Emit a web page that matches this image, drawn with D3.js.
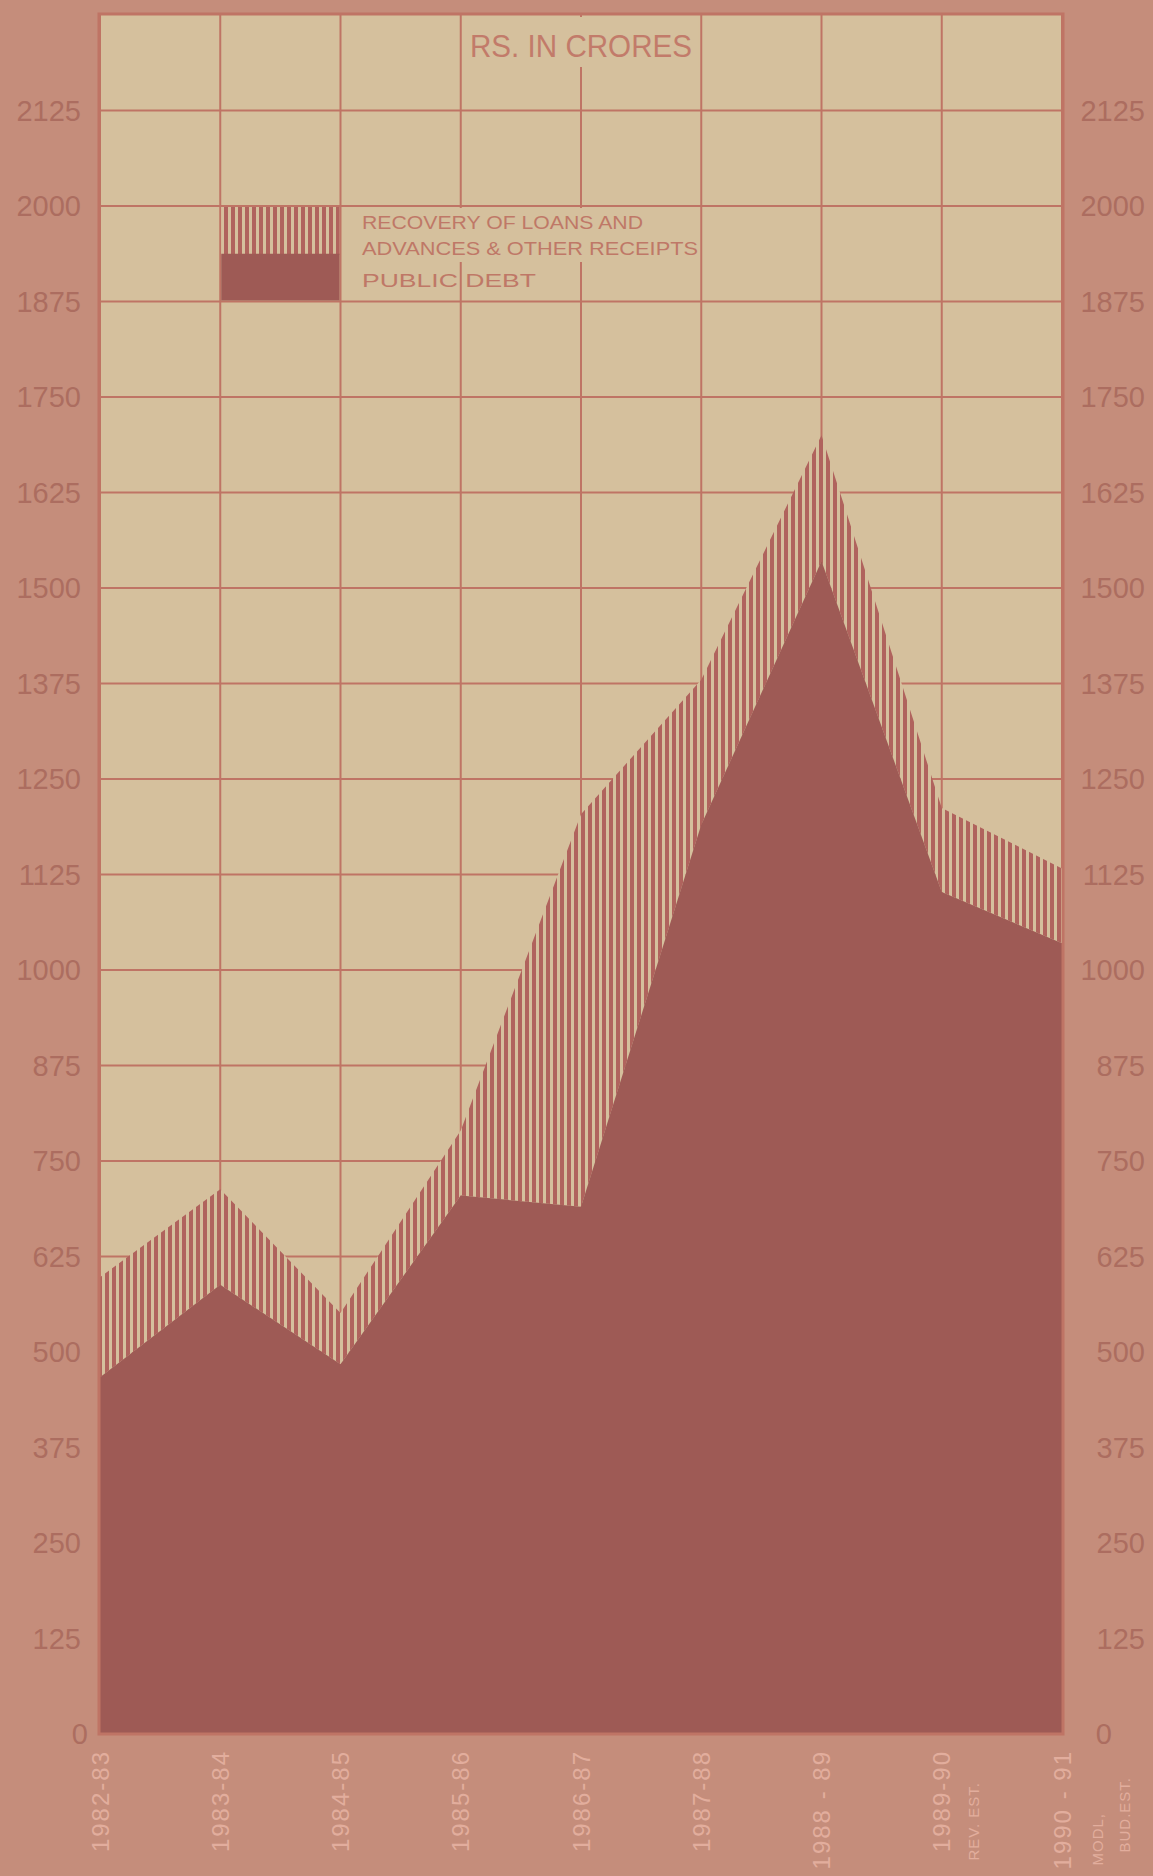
<!DOCTYPE html>
<html>
<head>
<meta charset="utf-8">
<script src="https://cdn.jsdelivr.net/npm/d3@7/dist/d3.min.js"></script>
<style>
  html, body { margin: 0; padding: 0; background: #c58d7b; }
  svg { display: block; }
</style>
</head>
<body>
<svg></svg>
<script>
const width = 1153;
const height = 1876;

// values, Rs. in crores
const years = ["1982-83", "1983-84", "1984-85", "1985-86", "1986-87", "1987-88", "1988-89", "1989-90", "1990-91"];
const yearLabels = ["1982-83", "1983-84", "1984-85", "1985-86", "1986-87", "1987-88", "1988 - 89", "1989-90", "1990 - 91"];
const yearNotes = [[], [], [], [], [], [], [], ["REV. EST."], ["MODL,", "BUD.EST."]];
const publicDebt = [467, 588, 484, 705, 690, 1190, 1535, 1102, 1035];
const recoveries = [131, 125, 67, 85, 514, 190, 165, 110, 98];
const yTicks = [0, 125, 250, 375, 500, 625, 750, 875, 1000, 1125, 1250, 1375, 1500, 1625, 1750, 1875, 2000, 2125];

const paper = "#d5c09d";
const gridColor = "#bf7465";
const debtColor = "#9e5a55";
const stripeColor = "#b0635d";

const rows = years.map((yr, i) => ({ year: yr, debt: publicDebt[i], recovery: recoveries[i] }));

const x = d3.scalePoint().domain(years).range([100, 1062]);
const y = d3.scaleLinear().domain([0, 2250]).range([1734, 15]);

let svg = d3.select("svg")
    .attr("width", width)
    .attr("height", height)

svg.append("rect")
    .attr("width", width)
    .attr("height", height)
    .attr("fill", "#c58d7b")

let defs = svg.append("defs");
let hatch = defs.append("pattern")
    .attr("id", "hatch")
    .attr("patternUnits", "userSpaceOnUse")
    .attr("width", 7)
    .attr("height", 10)
hatch.append("rect").attr("width", 7).attr("height", 10).attr("fill", paper)
hatch.append("rect").attr("width", 4).attr("height", 10).attr("fill", stripeColor)

// paper
svg.append("rect")
    .attr("x", x.range()[0])
    .attr("y", y(2250))
    .attr("width", x.range()[1] - x.range()[0])
    .attr("height", y(0) - y(2250))
    .attr("fill", paper)

// grid
let grid = svg.append("g")
    .attr("stroke", gridColor)
    .attr("stroke-width", 2)
grid.selectAll(".h")
    .data(yTicks.filter(d => d > 0))
    .join("line")
    .attr("x1", x.range()[0])
    .attr("x2", x.range()[1])
    .attr("y1", d => y(d))
    .attr("y2", d => y(d))
grid.selectAll(".v")
    .data(years)
    .join("line")
    .attr("x1", d => x(d))
    .attr("x2", d => x(d))
    .attr("y1", y(2250))
    .attr("y2", y(0))

// stacked areas
let stack = d3.stack().keys(["debt", "recovery"]);
let series = stack(rows);
let area = d3.area()
    .x(d => x(d.data.year))
    .y0(d => y(d[0]))
    .y1(d => y(d[1]))

svg.append("path")
    .datum(series[1])
    .attr("d", area)
    .attr("fill", "url(#hatch)")

svg.append("path")
    .datum(series[0])
    .attr("d", area)
    .attr("fill", debtColor)

// frame
svg.append("rect")
    .attr("x", x.range()[0] - 1)
    .attr("y", y(2250) - 1)
    .attr("width", x.range()[1] - x.range()[0] + 2)
    .attr("height", y(0) - y(2250) + 1)
    .attr("fill", "none")
    .attr("stroke", gridColor)
    .attr("stroke-width", 3)

// title
svg.append("rect")
    .attr("x", x(years[3]) + 3)
    .attr("y", y(2250) + 2)
    .attr("width", x(years[5]) - x(years[3]) - 6)
    .attr("height", 50)
    .attr("fill", paper)
svg.append("text")
    .attr("x", 470)
    .attr("y", 57)
    .attr("textLength", 222)
    .attr("lengthAdjust", "spacingAndGlyphs")
    .style("font-family", "Liberation Sans, Arial, sans-serif")
    .style("font-size", "31px")
    .attr("fill", "#c27b6a")
    .text("RS. IN CRORES")

// legend
let lx0 = x(years[1]), lx1 = x(years[2]);
let ySplit = (y(2000) + y(1875)) / 2;
svg.append("rect")
    .attr("x", lx0 + 1)
    .attr("y", y(2000) + 1)
    .attr("width", lx1 - lx0 - 2)
    .attr("height", ySplit - y(2000))
    .attr("fill", "url(#hatch)")
svg.append("rect")
    .attr("x", lx0 + 1)
    .attr("y", ySplit)
    .attr("width", lx1 - lx0 - 2)
    .attr("height", y(1875) - ySplit - 1)
    .attr("fill", debtColor)
svg.append("rect")
    .attr("x", lx1 + 2)
    .attr("y", y(2000) + 2)
    .attr("width", 352)
    .attr("height", 54)
    .attr("fill", paper)

let legendText = [
    { t: "RECOVERY OF LOANS AND", y: 229, w: 281 },
    { t: "ADVANCES  &  OTHER RECEIPTS", y: 255, w: 336 },
    { t: "PUBLIC  DEBT", y: 287, w: 174 }
];
svg.selectAll(".legend-text")
    .data(legendText)
    .join("text")
    .attr("x", 362)
    .attr("y", d => d.y)
    .attr("textLength", d => d.w)
    .attr("lengthAdjust", "spacingAndGlyphs")
    .style("font-family", "Liberation Sans, Arial, sans-serif")
    .style("font-size", "18px")
    .attr("fill", "#bf7867")
    .text(d => d.t)

// y labels on both sides
let labelStyle = sel => sel
    .style("font-family", "Liberation Sans, Arial, sans-serif")
    .style("font-size", "29px")
    .attr("fill", "#ac6d60")
    .attr("text-anchor", "end")
    .attr("dy", "0.36em")

svg.append("g").selectAll("text")
    .data(yTicks)
    .join("text")
    .attr("x", d => d === 0 ? 88 : 81)
    .attr("y", d => y(d))
    .text(d => d)
    .call(labelStyle)

svg.append("g").selectAll("text")
    .data(yTicks)
    .join("text")
    .attr("x", d => d === 0 ? 1112 : 1145)
    .attr("y", d => y(d))
    .text(d => d)
    .call(labelStyle)

// x labels, rotated
let xl = svg.append("g").selectAll("g")
    .data(years)
    .join("g")
    .attr("transform", d => `translate(${x(d)}, 1750) rotate(-90)`)

xl.append("text")
    .attr("text-anchor", "end")
    .attr("dy", "0.36em")
    .style("font-family", "Liberation Sans, Arial, sans-serif")
    .style("font-size", "24px")
    .style("letter-spacing", "2px")
    .attr("fill", "#e2ad9d")
    .text((d, i) => yearLabels[i])

let noteOffsets = [{ dx: 32, top: 32 }, { dx: 36, top: 63 }, { dx: 63, top: 27 }];
xl.each(function (d, i) {
    let g = d3.select(this);
    yearNotes[i].forEach((note, j) => {
        let off = noteOffsets[i === 7 ? 0 : j + 1];
        g.append("text")
            .attr("x", -off.top)
            .attr("y", off.dx)
            .attr("text-anchor", "end")
            .attr("dy", "0.36em")
            .style("font-family", "Liberation Sans, Arial, sans-serif")
            .style("font-size", "15px")
            .style("letter-spacing", "1px")
            .attr("fill", "#e2ad9d")
            .text(note)
    })
})
</script>
</body>
</html>
